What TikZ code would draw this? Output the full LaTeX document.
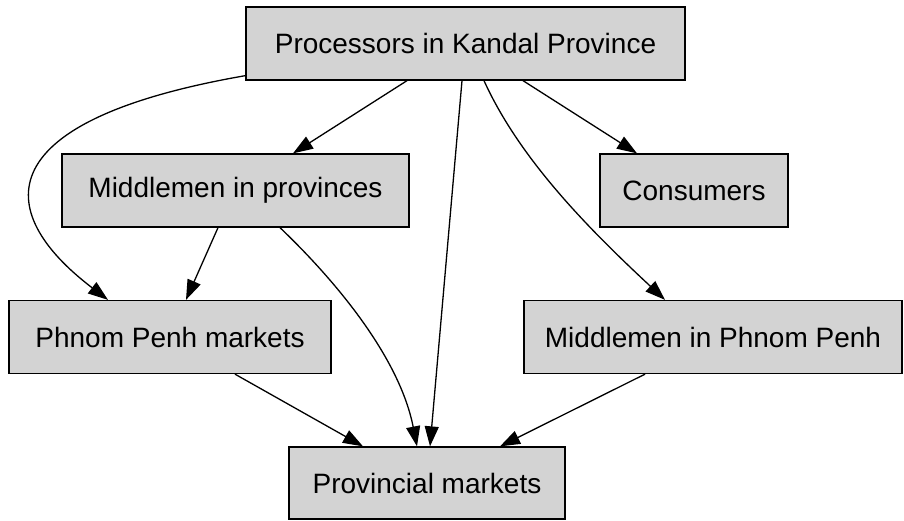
\documentclass[tikz,border=0pt]{standalone}
\usepackage{fontspec}
\setmainfont{Liberation Sans}
\usetikzlibrary{arrows.meta}
\definecolor{boxgray}{HTML}{D3D3D3}
\tikzset{
  stage/.style={draw=black,fill=boxgray,line width=1.3pt,inner sep=0pt,
    minimum height=73pt,font=\fontsize{28pt}{32pt}\selectfont},
  flow/.style={line width=1.3pt,-{Triangle[length=20pt,width=14pt]}}
}
\begin{document}
\begin{tikzpicture}[x=1pt,y=-1pt]
\useasboundingbox (0,0) rectangle (904,520);
\node[stage,minimum width=439pt] (proc) at (465.5,43.5) {Processors in Kandal Province};
\node[stage,minimum width=347pt] (midprov) at (235.5,190.5) {Middlemen in provinces};
\node[stage,minimum width=188pt] (cons) at (694,190.5) {Consumers};
\node[stage,minimum width=322pt] (ppmark) at (170,337) {Phnom Penh markets};
\node[stage,minimum width=378pt] (midpp) at (713,337) {Middlemen in Phnom Penh};
\node[stage,minimum width=276pt,minimum height=72pt] (provmark) at (427,483) {Provincial markets};
% from the processors
\draw[flow] ([xshift=-58.5pt]proc.south) -- ([xshift=57.5pt]midprov.north);
\draw[flow] ([xshift=57.5pt]proc.south) -- ([xshift=-57pt]cons.north);
\draw[flow] ([xshift=18.5pt]proc.south) .. controls (520,160) and (590,230) .. ([xshift=-48pt]midpp.north);
\draw[flow] ([xshift=-3.5pt]proc.south) -- ([xshift=3pt]provmark.north);
\draw[flow] ([yshift=5pt]proc.south west) .. controls (-10,120) and (-10,210) .. ([xshift=-62pt]ppmark.north);
% from the middlemen
\draw[flow] ([xshift=-17.5pt]midprov.south) -- ([xshift=16pt]ppmark.north);
\draw[flow] ([xshift=44.5pt]midprov.south) .. controls (340,285) and (400,360) .. ([xshift=-10pt]provmark.north);
\draw[flow] ([xshift=-68pt]midpp.south) -- ([xshift=73pt]provmark.north);
% from the Phnom Penh markets
\draw[flow] ([xshift=65pt]ppmark.south) -- ([xshift=-64pt]provmark.north);
\end{tikzpicture}
\end{document}
